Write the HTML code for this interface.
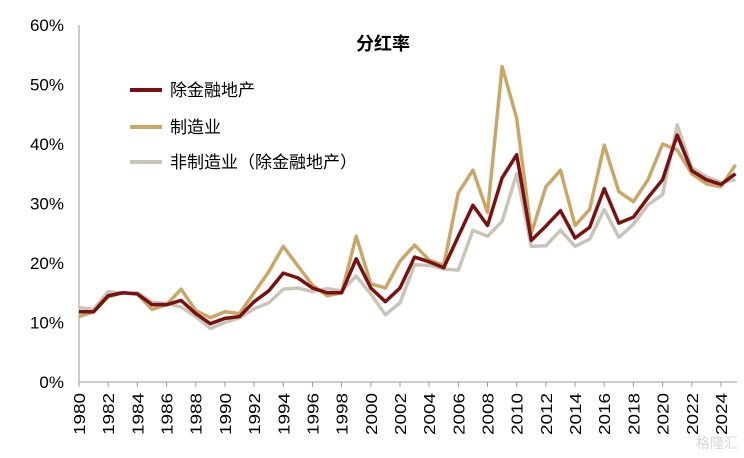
<!DOCTYPE html>
<html><head><meta charset="utf-8"><style>
body{margin:0;background:#fff;}
svg{display:block;font-family:"Liberation Sans","Noto Sans CJK SC",sans-serif;}
</style></head><body>
<svg id="c" width="744" height="458"></svg>
<script>
const years=[];for(let y=1980;y<=2025;y++)years.push(y);
const exFin=[11.8,11.8,14.5,15,14.8,13,13,13.7,11.5,9.8,10.7,11,13.5,15.3,18.3,17.5,15.8,15,15,20.7,15.8,13.5,15.8,21,20.2,19.2,24.5,29.7,26.3,34.3,38.2,23.8,26.2,28.8,24.2,26,32.5,26.7,27.7,31,34,41.5,35.5,34,33.2,35];
const manuf=[11,11.8,14.3,15,14.8,12.2,13,15.6,12,10.8,11.8,11.5,15,18.5,22.8,19.5,16.3,14.5,15,24.5,16.5,15.8,20.3,23,20.5,19.6,31.8,35.6,28.5,53,44.3,25,32.8,35.6,26.3,29,39.8,32,30.3,34,40,39,35,33.3,32.8,36.5];
const nonManuf=[12.5,12.2,15.2,14.9,15,13.4,13.2,12.6,11,9,10,10.8,12.3,13.3,15.6,15.8,15.2,15.7,15.3,17.8,14.8,11.3,13.3,19.7,19.6,19,18.8,25.5,24.5,27,35,22.8,22.9,25.5,22.8,24,29,24.3,26.5,29.8,31.5,43.2,36,34.5,33.5,34];
const yTicks=[0,10,20,30,40,50,60];
const ns="http://www.w3.org/2000/svg",svg=document.getElementById('c');
const X=y=>79+(y-1980)*14.59, Y=v=>382-v*5.95;
function mk(t,a,p){const e=document.createElementNS(ns,t);for(const k in a)e.setAttribute(k,a[k]);(p||svg).appendChild(e);return e;}
yTicks.forEach(v=>{const t=mk('text',{x:64,y:Y(v)+6,'text-anchor':'end','font-size':17,fill:'#000'});t.textContent=v+'%';

});
const ax=mk('path',{d:`M${X(1980)},${Y(60)}V382H737`,stroke:'#999',fill:'none','stroke-width':1});


years.forEach(y=>{if((y-1980)%2)return;mk('line',{x1:X(y),x2:X(y),y1:382,y2:387,stroke:'#999'});
const t=mk('text',{transform:`translate(${X(y)+6},${393}) rotate(-90)`,'text-anchor':'end','font-size':16,fill:'#000',textLength:42,lengthAdjust:'spacingAndGlyphs'});t.textContent=y;

});
function line(d,c,n){const p=mk('polyline',{points:d.map((v,i)=>X(years[i])+','+Y(v)).join(' '),fill:'none',stroke:c,'stroke-width':3.5,'stroke-linejoin':'round'});

}
line(nonManuf,'#c8c5b8','series-non-manufacturing');
line(manuf,'#c9a766','series-manufacturing');
line(exFin,'#7b1010','series-ex-financial');
const ti=mk('text',{x:383,y:50,'text-anchor':'middle','font-size':18,'font-weight':'bold'});ti.textContent='分红率';


[['除金融地产','#7b1010',90],['制造业','#c9a766',127],['非制造业（除金融地产）','#c8c5b8',162]].forEach(l=>{
const g=mk('g',{});


mk('line',{x1:130,x2:162,y1:l[2],y2:l[2],stroke:l[1],'stroke-width':4},g);
const t=mk('text',{x:170,y:l[2]+6,'font-size':17},g);t.textContent=l[0];});
const w=mk('text',{x:738,y:448,'text-anchor':'end','font-size':14,fill:'#d8d8d8'});w.textContent='格隆汇';


</script>
</body></html>
